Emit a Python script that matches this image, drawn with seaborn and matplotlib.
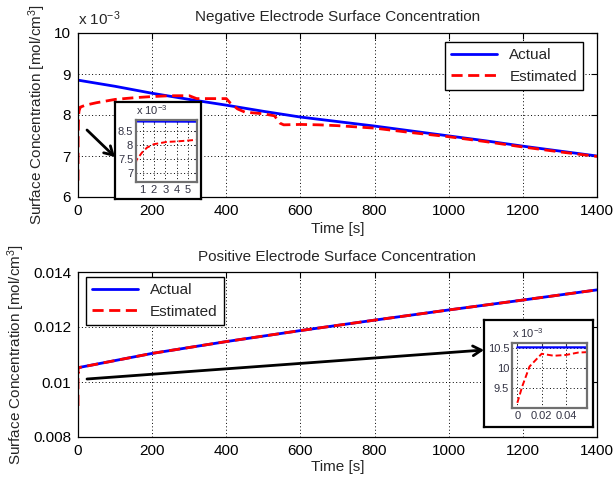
import matplotlib
matplotlib.use("Agg")
import matplotlib.pyplot as plt
import seaborn as sns
from matplotlib.patches import FancyArrowPatch

# ---------------- data ----------------
# Negative electrode (values in 1e-3 mol/cm^3), time in s
neg_t_act = [0, 100, 200, 300, 400, 500, 600, 700, 800, 900, 1000, 1100, 1200, 1300, 1400]
neg_act = [8.85, 8.70, 8.53, 8.38, 8.24, 8.09, 7.95, 7.84, 7.73, 7.61, 7.49, 7.37, 7.24, 7.12, 7.00]
neg_t_est = [0, 0.45, 0.95, 1.4, 2, 3.1, 4, 5, 5.8, 20, 50, 100, 150, 200, 250, 300,
             320, 340, 400, 410, 430, 450, 500, 530, 545, 555, 600, 650, 700, 750,
             800, 900, 1000, 1100, 1200, 1300, 1400]
neg_est = [6.40, 7.45, 7.73, 7.91, 8.03, 8.11, 8.13, 8.16, 8.19, 8.24, 8.30, 8.38, 8.42,
           8.45, 8.47, 8.47, 8.40, 8.40, 8.40, 8.30, 8.15, 8.07, 8.03, 7.98, 7.80, 7.76,
           7.77, 7.76, 7.74, 7.71, 7.68, 7.57, 7.47, 7.35, 7.22, 7.10, 6.99]

# Positive electrode (mol/cm^3)
pos_t_act = [0, 200, 400, 600, 800, 1000, 1200, 1400]
pos_act = [0.01052, 0.01104, 0.01147, 0.01187, 0.01225, 0.01262, 0.01298, 0.01335]
pos_t_est = [0, 0.004, 0.01, 0.02, 0.03, 0.04, 0.05, 0.057, 1, 200, 400, 600, 800, 1000, 1200, 1400]
pos_est = [0.00913, 0.00954, 0.01004, 0.01036, 0.01031, 0.01033, 0.01039, 0.01040,
           0.01052, 0.01104, 0.01147, 0.01187, 0.01225, 0.01262, 0.01298, 0.01335]

x_ticks = [0, 200, 400, 600, 800, 1000, 1200, 1400]
neg_yticks = [6, 7, 8, 9, 10]
pos_yticks = [0.008, 0.01, 0.012, 0.014]
pos_ylabels = ['0.008', '0.01', '0.012', '0.014']
ins1_xticks = [1, 2, 3, 4, 5]
ins1_yticks = [7, 7.5, 8, 8.5]
ins1_ylabels = ['7', '7.5', '8', '8.5']
ins2_xticks = [0, 0.02, 0.04]
ins2_xlabels = ['0', '0.02', '0.04']
ins2_yticks = [9.5, 10, 10.5]
ins2_ylabels = ['9.5', '10', '10.5']

# ---------------- style ----------------
sns.set_style("white")
plt.rcParams['font.family'] = ['Liberation Sans', 'DejaVu Sans']
plt.rcParams['mathtext.fontset'] = 'custom'
plt.rcParams['mathtext.rm'] = 'Liberation Sans'
plt.rcParams['mathtext.it'] = 'Liberation Sans:italic'

W, H = 614, 480
fig = plt.figure(figsize=(W / 100, H / 100), dpi=100)
fig.patch.set_facecolor('white')


def px(x0, y0, x1, y1):
    return [x0 / W, 1 - y1 / H, (x1 - x0) / W, (y1 - y0) / H]


BLUE = '#0000FF'
RED = '#FF0000'
GRID = dict(color='black', linestyle=(0, (1, 2.5)), linewidth=0.7)


def style_main(ax):
    ax.grid(True, **GRID)
    ax.tick_params(direction='in', length=4, labelsize=11, top=True, right=True,
                   colors='black', pad=5)
    for s in ax.spines.values():
        s.set_color('black')
        s.set_linewidth(0.9)


def style_inset(ax):
    ax.grid(True, **GRID)
    ax.tick_params(direction='in', length=2, labelsize=8, top=True, right=True,
                   colors='#333344', pad=2)
    for s in ax.spines.values():
        s.set_color('#707070')
        s.set_linewidth(1.6)


def outer_box(rect):
    b = fig.add_axes(rect)
    b.set_xticks([])
    b.set_yticks([])
    b.set_facecolor('white')
    for s in b.spines.values():
        s.set_color('black')
        s.set_linewidth(1.6)
    return b


# ---------------- top plot ----------------
ax1 = fig.add_axes(px(78, 33, 597, 197))
sns.lineplot(x=neg_t_act, y=neg_act, ax=ax1, color=BLUE, linewidth=2, label='Actual')
sns.lineplot(x=neg_t_est, y=neg_est, ax=ax1, color=RED, linewidth=2, label='Estimated')
ax1.lines[1].set_dashes((4, 2))
ax1.set_xlim(0, 1400)
ax1.set_ylim(6, 10)
ax1.set_xticks(x_ticks)
ax1.set_yticks(neg_yticks)
style_main(ax1)
ax1.set_title('Negative Electrode Surface Concentration', fontsize=11, pad=9)
ax1.set_xlabel('Time [s]', fontsize=11)
ax1.xaxis.set_label_coords(0.5, -0.15)
ax1.set_ylabel('Surface Concentration [mol/cm$^3$]', fontsize=11)
ax1.yaxis.set_label_coords(-0.058, 0.5)
ax1.legend(loc='upper right', bbox_to_anchor=((583 - 78) / 519, 1 - 9 / 164),
           borderaxespad=0, fontsize=11, frameon=True, fancybox=False,
           edgecolor='black', handlelength=3, framealpha=1)
fig.text(78 / W, 1 - 19 / H, r'x 10$^{-3}$', fontsize=11, va='center', ha='left')

# top inset
outer_box(px(115, 102, 201, 199))
ins1 = fig.add_axes(px(136, 120, 197, 182))
sns.lineplot(x=neg_t_act, y=neg_act, ax=ins1, color=BLUE, linewidth=1.6, legend=False)
sns.lineplot(x=neg_t_est, y=neg_est, ax=ins1, color=RED, linewidth=1.4, legend=False)
ins1.lines[1].set_dashes((3, 1.5))
ins1.set_xlim(0.42, 5.8)
ins1.set_ylim(6.67, 8.90)
ins1.set_xticks(ins1_xticks)
ins1.set_xticklabels([str(v) for v in ins1_xticks])
ins1.set_yticks(ins1_yticks)
ins1.set_yticklabels(ins1_ylabels)
ins1.set_xlabel('')
ins1.set_ylabel('')
style_inset(ins1)
fig.text(136 / W, 1 - 110 / H, r'x 10$^{-3}$', fontsize=8, va='center', ha='left',
         color='#333344')

# ---------------- bottom plot ----------------
ax2 = fig.add_axes(px(78, 272, 597, 437))
sns.lineplot(x=pos_t_act, y=pos_act, ax=ax2, color=BLUE, linewidth=2, label='Actual')
sns.lineplot(x=pos_t_est, y=pos_est, ax=ax2, color=RED, linewidth=2, label='Estimated')
ax2.lines[1].set_dashes((4, 2))
ax2.set_xlim(0, 1400)
ax2.set_ylim(0.008, 0.014)
ax2.set_xticks(x_ticks)
ax2.set_yticks(pos_yticks)
ax2.set_yticklabels(pos_ylabels)
style_main(ax2)
ax2.set_title('Positive Electrode Surface Concentration', fontsize=11, pad=8)
ax2.set_xlabel('Time [s]', fontsize=11)
ax2.xaxis.set_label_coords(0.5, -0.14)
ax2.set_ylabel('Surface Concentration [mol/cm$^3$]', fontsize=11)
ax2.yaxis.set_label_coords(-0.098, 0.5)
ax2.legend(loc='upper left', bbox_to_anchor=((86 - 78) / 519, 1 - 5 / 165),
           borderaxespad=0, fontsize=11, frameon=True, fancybox=False,
           edgecolor='black', handlelength=3, framealpha=1)

# bottom inset
outer_box(px(484, 320, 593, 427))
ins2 = fig.add_axes(px(512, 343, 587, 408))
sns.lineplot(x=pos_t_act, y=[v * 1000 for v in pos_act], ax=ins2, color=BLUE,
             linewidth=1.6, legend=False)
sns.lineplot(x=pos_t_est, y=[v * 1000 for v in pos_est], ax=ins2, color=RED,
             linewidth=1.4, legend=False)
ins2.lines[1].set_dashes((3, 1.5))
ins2.set_xlim(-0.0044, 0.0573)
ins2.set_ylim(9.0, 10.63)
ins2.set_xticks(ins2_xticks)
ins2.set_xticklabels(ins2_xlabels)
ins2.set_yticks(ins2_yticks)
ins2.set_yticklabels(ins2_ylabels)
ins2.set_xlabel('')
ins2.set_ylabel('')
style_inset(ins2)
fig.text(512 / W, 1 - 333 / H, r'x 10$^{-3}$', fontsize=8, va='center', ha='left',
         color='#333344')

# ---------------- arrows ----------------
for (xa, ya), (xb, yb) in [((87, 130), (115, 157)), ((87, 379), (484, 350))]:
    arr = FancyArrowPatch((xa / W, 1 - ya / H), (xb / W, 1 - yb / H),
                          transform=fig.transFigure,
                          arrowstyle='->,head_length=6,head_width=3.5',
                          color='black', linewidth=2, mutation_scale=1,
                          shrinkA=0, shrinkB=0)
    fig.add_artist(arr)

fig.savefig('out.png', dpi=100, facecolor='white')
